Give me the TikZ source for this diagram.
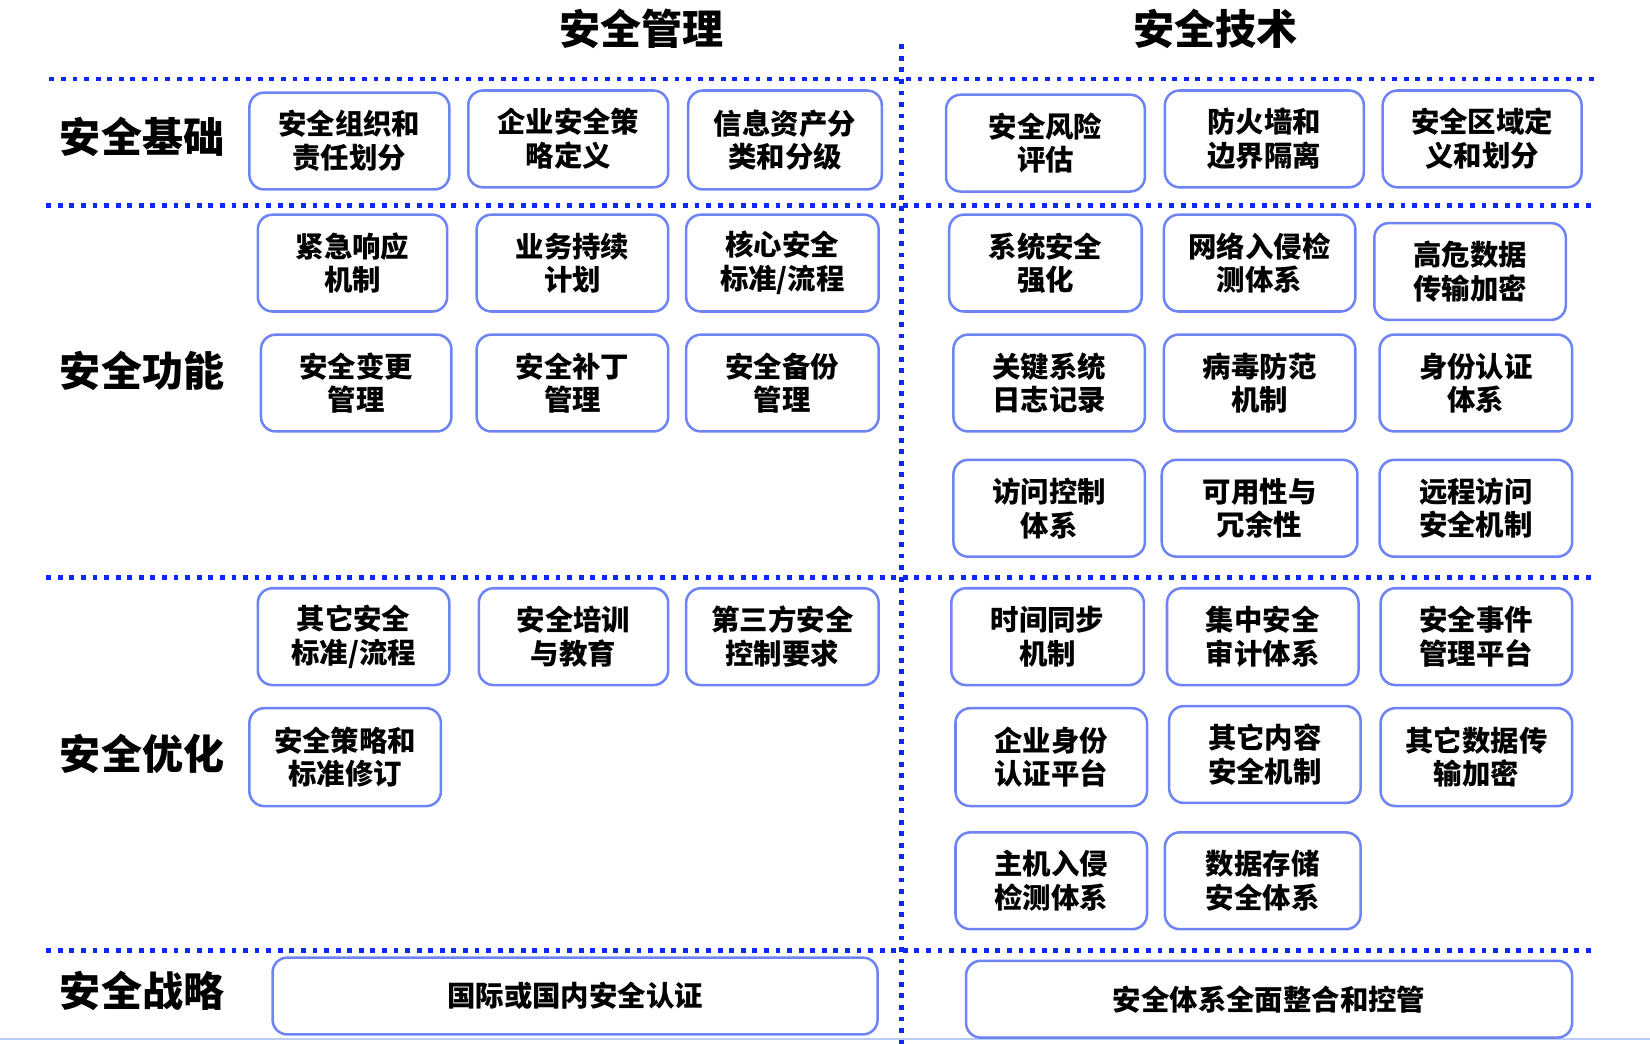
\documentclass[tikz,border=0pt]{standalone}
\usepackage{fontspec}
\setmainfont{Noto Sans CJK SC}
\definecolor{dotblue}{RGB}{15,40,250}
\definecolor{boxblue}{RGB}{110,132,245}
\definecolor{lineblue}{RGB}{185,205,245}
\tikzset{
  bx/.style={draw=boxblue, line width=1.2pt, rounded corners=7pt, fill=white, align=center, inner sep=0pt,
     font=\fontsize{13.5}{16}\selectfont\bfseries},
  dotline/.style={draw=dotblue, line width=2.3pt, dash pattern=on 2.3pt off 3.2pt},
  rowlabel/.style={font=\fontsize{19.5}{22}\selectfont\bfseries, anchor=center},
  coltitle/.style={font=\fontsize{19.5}{22}\selectfont\bfseries, anchor=center}
}
\newcommand{\bx}[6]{\node[bx, minimum width=#4*0.5pt, minimum height=#5*0.5pt] (#1) at (#2,#3) {#6};}
\begin{document}
\begin{tikzpicture}[x=0.5pt,y=-0.5pt]
\useasboundingbox (0,0) rectangle (1568,992);
% titles
\node[coltitle] (t1) at (610,27) {安全管理};
\node[coltitle] (t2) at (1155,27) {安全技术};
% dotted lines
\coordinate (h1a) at (47,75); \coordinate (h1b) at (1515,75);
\coordinate (h2a) at (44,195); \coordinate (h2b) at (1512,195);
\coordinate (h3a) at (44,549); \coordinate (h3b) at (1512,549);
\coordinate (h4a) at (44,903); \coordinate (h4b) at (1512,903);
\coordinate (va) at (857,42); \coordinate (vb) at (857,992);
\draw[dotline] (h1a) -- (h1b);
\draw[dotline] (h2a) -- (h2b);
\draw[dotline] (h3a) -- (h3b);
\draw[dotline] (h4a) -- (h4b);
\draw[dotline] (va) -- (vb);
\coordinate (ba) at (0,987); \coordinate (bb) at (1568,987);
\draw[lineblue, line width=1pt] (ba) -- (bb);
% row labels
\node[rowlabel] (r1) at (135,130) {安全基础};
\node[rowlabel] (r2) at (135,352) {安全功能};
\node[rowlabel] (r3) at (135,716) {安全优化};
\node[rowlabel] (r4) at (135,942) {安全战略};
% row 1
\bx{a1}{332}{134}{190}{92}{安全组织和\\责任划分}
\bx{a2}{540}{132}{190}{92}{企业安全策\\略定义}
\bx{a3}{746}{133}{184}{94}{信息资产分\\类和分级}
\bx{b1}{993.5}{136}{189}{92}{安全风险\\评估}
\bx{b2}{1201.5}{132}{189}{92}{防火墙和\\边界隔离}
\bx{b3}{1408.5}{132}{189}{92}{安全区域定\\义和划分}
% row 2
\bx{c1}{335}{250}{180}{92}{紧急响应\\机制}
\bx{c2}{544}{250}{182}{92}{业务持续\\计划}
\bx{c3}{743.5}{250}{183}{92}{核心安全\\标准/流程}
\bx{c4}{338.5}{364}{181}{92}{安全变更\\管理}
\bx{c5}{544}{364}{182}{92}{安全补丁\\管理}
\bx{c6}{743.5}{364}{183}{92}{安全备份\\管理}
\bx{d1}{993.5}{250}{183}{92}{系统安全\\强化}
\bx{d2}{1197}{250}{182}{92}{网络入侵检\\测体系}
\bx{d3}{1397}{258}{182}{92}{高危数据\\传输加密}
\bx{d4}{997}{364}{182}{92}{关键系统\\日志记录}
\bx{d5}{1197}{364}{182}{92}{病毒防范\\机制}
\bx{d6}{1402.5}{364}{183}{92}{身份认证\\体系}
\bx{d7}{997}{483}{182}{92}{访问控制\\体系}
\bx{d8}{1197}{483}{186}{92}{可用性与\\冗余性}
\bx{d9}{1402.5}{483}{183}{92}{远程访问\\安全机制}
% row 3
\bx{e1}{336}{605}{182}{92}{其它安全\\标准/流程}
\bx{e2}{545}{605}{180}{92}{安全培训\\与教育}
\bx{e3}{743.5}{605}{183}{92}{第三方安全\\控制要求}
\bx{e4}{328}{719.5}{182}{93}{安全策略和\\标准修订}
\bx{f1}{995.5}{605}{183}{92}{时间同步\\机制}
\bx{f2}{1200}{605}{182}{92}{集中安全\\审计体系}
\bx{f3}{1403}{605}{182}{92}{安全事件\\管理平台}
\bx{f4}{999}{719.5}{182}{93}{企业身份\\认证平台}
\bx{f5}{1202}{717}{182}{92}{其它内容\\安全机制}
\bx{f6}{1403}{719.5}{182}{93}{其它数据传\\输加密}
\bx{f7}{999}{837}{182}{92}{主机入侵\\检测体系}
\bx{f8}{1200}{837}{186}{92}{数据存储\\安全体系}
% row 4
\bx{g1}{546.5}{946.5}{575}{73}{国际或国内安全认证}
\bx{g2}{1206}{949.5}{576}{73}{安全体系全面整合和控管}
\end{tikzpicture}
\end{document}
